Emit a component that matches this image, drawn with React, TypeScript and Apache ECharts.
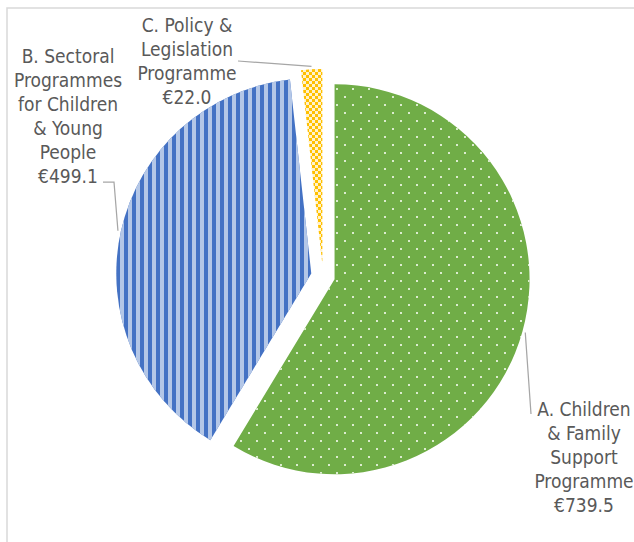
import React, { useEffect, useRef } from "react";
import * as echarts from "echarts";

const categories = [
  "A. Children\n& Family\nSupport\nProgramme",
  "B. Sectoral\nProgrammes\nfor Children\n& Young\nPeople",
  "C. Policy &\nLegislation\nProgramme",
];
const values = [739.5, 499.1, 22.0];

// presentation only
const labelCenters = [
  [584, 457],
  [68, 116],
  [187, 61],
];
// leader-line attach points relative to each label centre (elbow optional)
const labelAnchors: number[][][] = [
  [[-53, -43]],
  [[46, 66], [35, 66]],
  [[51, 0]],
];
const CENTER = [323, 276];
const RADIUS = 195;
const EXPLODE = 12;
const LEADER_GAP = 3;

const FONT = "'DejaVu Sans Condensed', 'DejaVu Sans', sans-serif";

export default function App() {
  const ref = useRef<HTMLDivElement>(null);
  useEffect(() => {
    if (!ref.current) return;
    const chart = echarts.init(ref.current, null, { renderer: "svg" });
    const decals = [
      {
        symbol: "rect",
        symbolSize: 1,
        color: "#dbeccf",
        dashArrayX: [
          [2, 14],
          [0, 8, 2, 6],
        ],
        dashArrayY: [2, 6],
      },
      {
        symbol: "rect",
        symbolSize: 1,
        color: "#b4c7e7",
        dashArrayX: [[4, 4]],
        dashArrayY: [4, 0],
      },
      {
        symbol: "rect",
        symbolSize: 1,
        color: "#ffc000",
        backgroundColor: "#fff2cc",
        dashArrayX: [
          [3, 3],
          [0, 3, 3, 0],
        ],
        dashArrayY: [3, 0],
      },
    ];
    const colors = ["#70ad47", "#4472c4", "#fff2cc"];
    const total = values.reduce((a, b) => a + b, 0);
    let cum = 0;
    const series = values.map((v, k) => {
      const midFrac = (cum + v / 2) / total;
      cum += v;
      const theta = ((90 - 360 * midFrac) * Math.PI) / 180;
      const cx = CENTER[0] + EXPLODE * Math.cos(theta);
      const cy = CENTER[1] - EXPLODE * Math.sin(theta);
      const edge = [
        cx + (RADIUS + LEADER_GAP) * Math.cos(theta),
        cy - (RADIUS + LEADER_GAP) * Math.sin(theta),
      ];
      return {
        type: "pie",
        center: [cx, cy],
        radius: [0, RADIUS],
        startAngle: 90,
        clockwise: true,
        avoidLabelOverlap: false,
        silent: true,
        z: 2,
        data: categories.map((name, i) => ({
          name,
          value: values[i],
          itemStyle:
            i === k
              ? { color: colors[i], decal: decals[i] }
              : { color: "rgba(0,0,0,0)", decal: null },
          label: { show: i === k },
          labelLine: { show: i === k },
        })),
        label: {
          show: true,
          position: "outside",
          formatter: (p: any) => `${categories[p.dataIndex]}\n€${p.value.toFixed(1)}`,
          fontFamily: FONT,
          fontSize: 19,
          lineHeight: 24,
          color: "#595959",
          align: "center",
        },
        labelLine: {
          show: true,
          length: 10,
          length2: 10,
          lineStyle: { color: "#a6a6a6", width: 1.25 },
        },
        labelLayout: (params: any) => {
          const idx = params.dataIndex;
          const c = labelCenters[idx];
          const anchors = labelAnchors[idx].map((a) => [c[0] + a[0], c[1] + a[1]]);
          const pts =
            anchors.length === 1
              ? [edge, [(edge[0] + anchors[0][0]) / 2, (edge[1] + anchors[0][1]) / 2], anchors[0]]
              : [edge, ...anchors];
          return {
            x: c[0],
            y: c[1],
            align: "center",
            verticalAlign: "middle",
            labelLinePoints: pts,
          };
        },
      };
    });
    chart.setOption({
      animation: false,
      backgroundColor: "#ffffff",
      graphic: [
        {
          type: "rect",
          shape: { x: 7, y: 8, width: 700, height: 600 },
          style: { fill: "none", stroke: "#d9d9d9", lineWidth: 1.5 },
          silent: true,
        },
      ],
      series,
    });
    return () => chart.dispose();
  }, []);
  return (
    <div
      ref={ref}
      style={{ position: "fixed", left: 0, top: 0, width: 634, height: 542, background: "#fff" }}
    />
  );
}
